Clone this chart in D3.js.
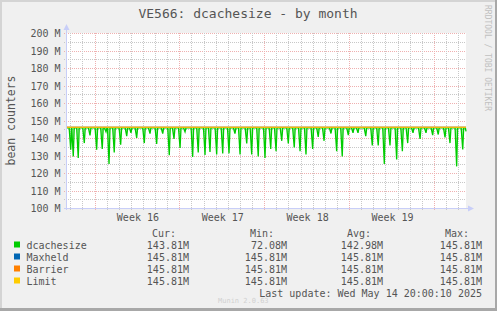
<!DOCTYPE html>
<html>
<head>
<meta charset="utf-8">
<script src="https://cdn.jsdelivr.net/npm/d3@7"></script>
<style>
  body { margin: 0; background: #F0F0F0; }
  svg text { font-family: "DejaVu Sans Mono", monospace; }
</style>
</head>
<body>
<script>
// munin month graph, 33 days wide
var startTime = Date.UTC(2025, 3, 11, 13, 35);
var spanDays = 33;

// dcachesize: flat at base value, with dips [day offset from start, value in M]
var dcacheBase = 145.81;
var dcacheDips = [
  [0.39,133.3],[0.60,129.5],[1.01,128.6],[1.51,137.1],[1.98,141.5],[2.53,133.3],
  [2.99,133.7],[3.30,143.5],[3.55,125.1],[3.98,131.8],[4.51,136.2],[5.01,141.0],
  [5.36,143.0],[5.83,140.0],[6.46,137.1],[6.93,142.5],[7.48,136.6],[7.98,142.5],
  [8.52,130.1],[8.91,139.5],[9.41,134.3],[9.82,143.5],[10.45,129.1],[10.91,131.8],
  [11.47,130.3],[11.88,132.0],[12.43,130.6],[12.93,131.2],[13.45,131.2],[13.94,142.5],
  [14.36,130.6],[14.91,136.9],[15.32,130.6],[15.86,129.5],[16.42,128.6],[16.89,133.7],
  [17.33,132.4],[17.80,138.4],[18.34,136.9],[18.83,134.6],[19.31,132.4],[19.80,130.6],
  [20.35,133.7],[20.81,140.6],[21.29,138.4],[21.86,142.6],[22.33,132.4],[22.79,129.5],
  [23.29,141.6],[23.68,143.0],[24.09,143.0],[24.73,141.0],[25.27,135.7],[25.76,135.7],
  [26.26,125.1],[26.73,135.7],[27.28,127.7],[27.75,132.4],[28.19,137.1],[28.63,143.0],
  [29.21,139.5],[29.70,143.0],[30.25,141.6],[30.71,142.0],[31.27,140.3],[31.68,137.1],
  [32.23,123.8],[32.73,133.5]
];
var dcacheLast = 143.81;

// Maxheld, Barrier, Limit are flat over the whole month
var flatValues = [145.81, 145.81, 145.81];

var names  = ["dcachesize", "Maxheld", "Barrier", "Limit"];
var colors = ["#00CC00", "#0066B3", "#FF8000", "#FFCC00"];
var curVals = ["143.81M", "145.81M", "145.81M", "145.81M"];
var minVals = ["72.08M",  "145.81M", "145.81M", "145.81M"];
var avgVals = ["142.98M", "145.81M", "145.81M", "145.81M"];
var maxVals = ["145.81M", "145.81M", "145.81M", "145.81M"];

var yTicks = [100, 110, 120, 130, 140, 150, 160, 170, 180, 190, 200];
var weekLabels = ["Week 16", "Week 17", "Week 18", "Week 19"];

var W = 497, H = 311;
var plotL = 66, plotT = 33, pw = 400, ph = 175;
var DAY = 864e5;
var endTime = startTime + spanDays * DAY;

var svg = d3.select("body").append("svg").attr("width", W).attr("height", H);

// background + frame
svg.append("rect").attr("width", W).attr("height", H).style("fill", "#F0F0F0");
svg.append("rect").attr("x", 0).attr("y", 0).attr("width", W).attr("height", 2).style("fill", "#d4d4d4");
svg.append("rect").attr("x", 0).attr("y", 0).attr("width", 2).attr("height", H).style("fill", "#d4d4d4");
svg.append("rect").attr("x", 0).attr("y", H-3).attr("width", W).attr("height", 3).style("fill", "#a8a8a8");
svg.append("rect").attr("x", W-2).attr("y", 0).attr("width", 2).attr("height", H).style("fill", "#a8a8a8");

var x = d3.scaleUtc().domain([startTime, endTime]).range([plotL, plotL + pw]);
var y = d3.scaleLinear().domain([100, 200]).range([plotT + ph, plotT]);

// canvas
svg.append("rect").attr("x", plotL).attr("y", plotT).attr("width", pw).attr("height", ph).style("fill", "#fff");

var grid = svg.append("g");
// horizontal grid: minor every 5M, major every 10M
d3.range(105, 200, 10).forEach(function(v) {
  grid.append("line").attr("x1", plotL - 2).attr("x2", plotL + pw)
    .attr("y1", Math.round(y(v)) + 0.5).attr("y2", Math.round(y(v)) + 0.5)
    .style("stroke", "#c8c8c8").style("stroke-dasharray", "1,1");
});
yTicks.forEach(function(v) {
  grid.append("line").attr("x1", plotL - 2).attr("x2", plotL + pw)
    .attr("y1", Math.round(y(v)) + 0.5).attr("y2", Math.round(y(v)) + 0.5)
    .style("stroke", "#efb0b0").style("stroke-dasharray", "1,1");
});
// vertical grid: minor every day, major every week (Monday)
var days = d3.utcDay.range(new Date(startTime), new Date(endTime));
days.forEach(function(d) {
  var px = Math.round(x(d)) - 0.5;
  grid.append("line").attr("x1", px).attr("x2", px).attr("y1", plotT).attr("y2", plotT + ph + 2)
    .style("stroke", "#c8c8c8").style("stroke-dasharray", "1,1");
});
var weeks = d3.utcMonday.range(new Date(startTime), new Date(endTime));
weeks.forEach(function(d) {
  var px = Math.round(x(d)) - 0.5;
  grid.append("line").attr("x1", px).attr("x2", px).attr("y1", plotT).attr("y2", plotT + ph + 2)
    .style("stroke", "#efb0b0").style("stroke-dasharray", "1,1");
});

// y labels via axis
var yAxis = d3.axisLeft(y).tickValues(yTicks).tickSize(0).tickPadding(5)
  .tickFormat(function(d) { return d + " M"; });
var gy = svg.append("g").attr("transform", "translate(" + (plotL - 0.5) + ",0.5)").call(yAxis);
gy.select(".domain").remove();
gy.selectAll("text").style("font-family", "DejaVu Sans Mono").style("font-size", "10px").style("fill", "#555");

// week labels centered in each week
weeks.slice(0, weekLabels.length).forEach(function(d, i) {
  var mid = new Date(+d + 3.5 * DAY);
  svg.append("text").attr("x", x(mid)).attr("y", 220.5).attr("text-anchor", "middle")
    .style("font-size", "10px").style("fill", "#555").text(weekLabels[i]);
});

// data lines
var line = d3.line().x(function(p) { return x(p[0]); }).y(function(p) { return y(p[1]); });
var dcachePts = [[startTime, dcacheBase]];
dcacheDips.forEach(function(dp) {
  var t = startTime + dp[0] * DAY;
  dcachePts.push([t - 0.13 * DAY, dcacheBase]);
  dcachePts.push([t, dp[1]]);
  dcachePts.push([t + 0.08 * DAY, dcacheBase]);
});
dcachePts.push([endTime - 0.05 * DAY, dcacheBase]);
dcachePts.push([endTime, dcacheLast]);

// faint fill inside the spikes, as the antialiased rrd lines give
svg.append("path").datum(dcachePts)
  .attr("d", d3.area().x(function(p) { return x(p[0]); }).y0(y(dcacheBase)).y1(function(p) { return y(p[1]); }))
  .style("fill", "#00CC00").style("opacity", 0.35);
svg.append("path").datum(dcachePts).attr("d", line)
  .style("fill", "none").style("stroke", colors[0]).style("stroke-width", 1.3);

flatValues.forEach(function(v, i) {
  svg.append("path").datum([[startTime, v], [endTime, v]]).attr("d", line)
    .style("fill", "none").style("stroke", colors[i + 1]).style("stroke-width", 1.2)
    .attr("transform", "translate(0,-0.6)");
});

// axes with arrows
var axisColor = "#c8cef8";
svg.append("line").attr("x1", plotL + 0.5).attr("x2", plotL + 0.5).attr("y1", plotT + ph + 2).attr("y2", plotT - 5)
  .style("stroke", axisColor);
svg.append("path").attr("d", "M" + (plotL - 2.5) + "," + (plotT - 3) + "L" + (plotL + 0.5) + "," + (plotT - 9) + "L" + (plotL + 3.5) + "," + (plotT - 3) + "Z")
  .style("fill", axisColor);
svg.append("line").attr("x1", plotL - 2).attr("x2", plotL + pw + 4).attr("y1", plotT + ph + 0.5).attr("y2", plotT + ph + 0.5)
  .style("stroke", axisColor);
svg.append("path").attr("d", "M" + (plotL + pw + 2) + "," + (plotT + ph - 2.5) + "L" + (plotL + pw + 8) + "," + (plotT + ph + 0.5) + "L" + (plotL + pw + 2) + "," + (plotT + ph + 3.5) + "Z")
  .style("fill", axisColor);

// title, y label, side text
svg.append("text").attr("x", 248).attr("y", 18).attr("text-anchor", "middle")
  .style("font-size", "13px").style("fill", "#555").text("VE566: dcachesize - by month");
svg.append("text").attr("transform", "translate(15," + (plotT + ph / 2) + ") rotate(-90)")
  .attr("text-anchor", "middle").style("font-size", "11.5px").style("fill", "#555").text("bean counters");
svg.append("text").attr("transform", "translate(485,5) rotate(90)")
  .style("font-size", "8px").style("fill", "#c0c0c0").text("RRDTOOL / TOBI OETIKER");

// legend
var colX = [176, 274, 371, 469];
var valX = [189, 287, 383, 482];
["Cur:", "Min:", "Avg:", "Max:"].forEach(function(h, i) {
  svg.append("text").attr("x", colX[i]).attr("y", 236.5).attr("text-anchor", "end")
    .style("font-size", "10px").style("fill", "#555").text(h);
});
names.forEach(function(n, i) {
  var by = 248.5 + i * 12;
  svg.append("rect").attr("x", 14).attr("y", by - 7).attr("width", 6).attr("height", 6).style("fill", colors[i]);
  svg.append("text").attr("x", 26.5).attr("y", by).style("font-size", "10px").style("fill", "#555").text(n);
  [curVals, minVals, avgVals, maxVals].forEach(function(arr, j) {
    svg.append("text").attr("x", valX[j]).attr("y", by).attr("text-anchor", "end")
      .style("font-size", "10px").style("fill", "#555").text(arr[i]);
  });
});
svg.append("text").attr("x", 482).attr("y", 296.5).attr("text-anchor", "end")
  .style("font-size", "10px").style("fill", "#555").text("Last update: Wed May 14 20:00:10 2025");
svg.append("text").attr("x", 218).attr("y", 302.5)
  .style("font-size", "7px").style("fill", "#d0d0d0").text("Munin 2.0.63");
</script>
</body>
</html>
